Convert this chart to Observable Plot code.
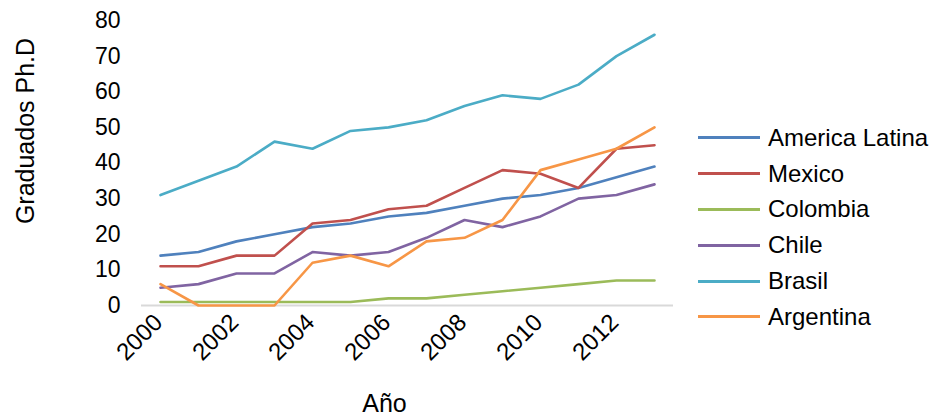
<!DOCTYPE html>
<html>
<head>
<meta charset="utf-8">
<script src="https://cdn.jsdelivr.net/npm/d3@7"></script>
<script src="https://cdn.jsdelivr.net/npm/@observablehq/plot@0.6"></script>
<style>
  body { margin: 0; background: #fff; font-family: "Liberation Sans", Arial, sans-serif; }
  #chart { position: relative; width: 934px; height: 419px; }
  #legend { position: absolute; left: 698px; top: 120px; }
  .item { display: flex; align-items: center; height: 35.8px; font-size: 24px; color: #000; }
  .swatch { width: 62px; height: 3px; margin-right: 8px; }
</style>
</head>
<body>
<div id="chart"><div id="legend"></div></div>
<script>
// Graduados de doctorado por año
const years = [2000, 2001, 2002, 2003, 2004, 2005, 2006, 2007, 2008, 2009, 2010, 2011, 2012, 2013];
const americaLatina = [14, 15, 18, 20, 22, 23, 25, 26, 28, 30, 31, 33, 36, 39];
const mexico        = [11, 11, 14, 14, 23, 24, 27, 28, 33, 38, 37, 33, 44, 45];
const colombia      = [1, 1, 1, 1, 1, 1, 2, 2, 3, 4, 5, 6, 7, 7];
const chile         = [5, 6, 9, 9, 15, 14, 15, 19, 24, 22, 25, 30, 31, 34];
const brasil        = [31, 35, 39, 46, 44, 49, 50, 52, 56, 59, 58, 62, 70, 76];
const argentina     = [6, 0, 0, 0, 12, 14, 11, 18, 19, 24, 38, 41, 44, 50];

const seriesNames  = ["America Latina", "Mexico", "Colombia", "Chile", "Brasil", "Argentina"];
const seriesValues = [americaLatina, mexico, colombia, chile, brasil, argentina];
const seriesColors = ["#4f81bd", "#c0504d", "#9bbb59", "#8064a2", "#4bacc6", "#f79646"];

const xTicks = [2000, 2002, 2004, 2006, 2008, 2010, 2012];
const yTicks = [0, 10, 20, 30, 40, 50, 60, 70, 80];
const xTitle = "Año";
const yTitle = "Graduados Ph.D";

// Long table: one row per (serie, año), in drawing order
const rows = seriesNames.flatMap((name, i) =>
  years.map((year, j) => ({serie: name, year, value: seriesValues[i][j]}))
);

const plot = Plot.plot({
  width: 934,
  height: 419,
  marginTop: 20,
  marginBottom: 114,
  marginLeft: 141,
  marginRight: 261,
  style: {fontFamily: "'Liberation Sans', Arial, sans-serif", fontSize: "23px", color: "#000", background: "transparent", overflow: "visible"},
  x: {type: "point", domain: years, padding: 0.5},
  y: {domain: [0, 80]},
  color: {domain: seriesNames, range: seriesColors},
  marks: [
    Plot.ruleY([0], {stroke: "#d9d9d9", strokeWidth: 2}),
    Plot.axisY(yTicks, {tickSize: 0, tickPadding: 21, fontSize: 23, label: null}),
    Plot.axisX(xTicks, {tickSize: 0, tickPadding: 13, tickRotate: -45, fontSize: 24, dx: -2, tickFormat: d => String(d), label: null}),
    Plot.line(rows, {x: "year", y: "value", z: "serie", stroke: "serie", strokeWidth: 2.6, strokeLinejoin: "round", strokeLinecap: "round"}),
    Plot.text([xTitle], {frameAnchor: "bottom", textAnchor: "middle", lineAnchor: "middle", dx: -23, dy: 98, fontSize: 25, text: d => d}),
    Plot.text([yTitle], {frameAnchor: "left", textAnchor: "middle", lineAnchor: "middle", rotate: -90, dx: -116, dy: -32, fontSize: 25, text: d => d})
  ]
});

const chart = document.getElementById("chart");
chart.insertBefore(plot, chart.firstChild);

const legend = document.getElementById("legend");
seriesNames.forEach((name, i) => {
  const item = document.createElement("div");
  item.className = "item";
  const sw = document.createElement("span");
  sw.className = "swatch";
  sw.style.background = seriesColors[i];
  const label = document.createElement("span");
  label.textContent = name;
  item.appendChild(sw);
  item.appendChild(label);
  legend.appendChild(item);
});
</script>
</body>
</html>
